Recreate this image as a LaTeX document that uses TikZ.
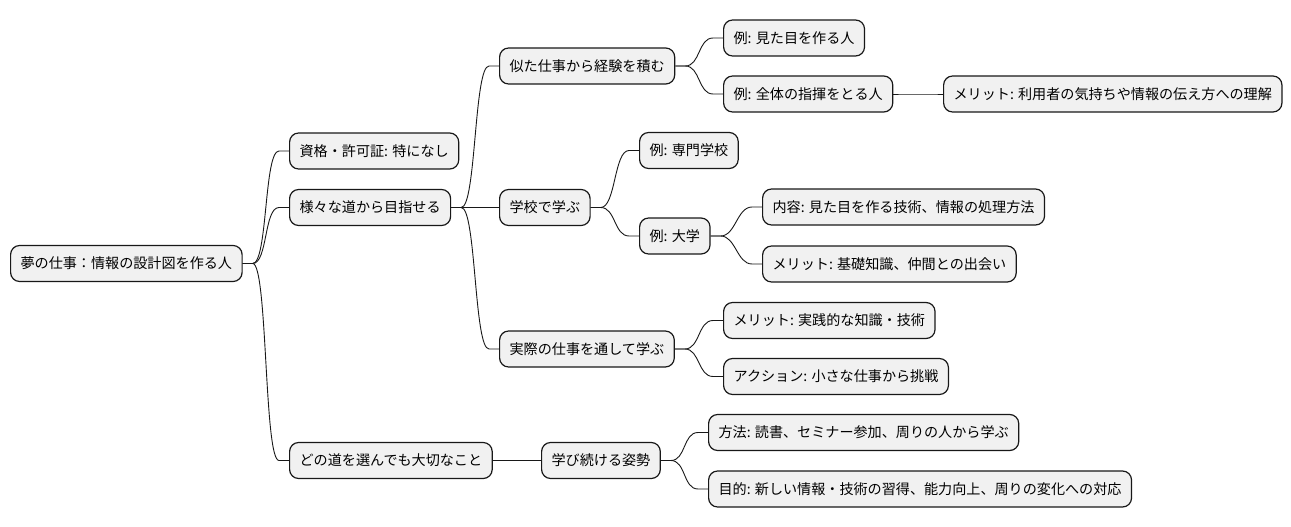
\documentclass[tikz,border=0pt]{standalone}
\usepackage{fontspec}
\setmainfont{Noto Sans CJK JP}
\usetikzlibrary{
    positioning,
    calc
}
\definecolor{boxgray}{HTML}{F1F1F1}
\definecolor{inkline}{HTML}{181818}
\tikzset{
    % --- Mind map topic (rounded box) ---
    topic/.style = {
        rectangle, draw=inkline, fill=boxgray,
        line width=1.2, rounded corners=9,
        minimum height=36, inner xsep=10, inner ysep=0,
        anchor=west,
        font=\fontsize{14.1}{16}\selectfont
    },
    % --- Branch line between topics ---
    branch/.style = {
        draw=inkline, line width=0.9
    }
}

\begin{document}
\begin{tikzpicture}[x=1pt, y=-1pt]

\useasboundingbox (0,0) rectangle (1291,527);

% ---------------------------------------------------------
% Root and first level
% ---------------------------------------------------------
\node[topic] (root) at (10, 263.5) {夢の仕事：情報の設計図を作る人};

\node[topic] (cert)  at (289, 151)   {資格・許可証: 特になし};
\node[topic] (paths) at (289, 207.5) {様々な道から目指せる};
\node[topic] (core)  at (289, 460.5) {どの道を選んでも大切なこと};

% ---------------------------------------------------------
% Second level
% ---------------------------------------------------------
\node[topic] (similar) at (499, 66)    {似た仕事から経験を積む};
\node[topic] (school)  at (499, 207.5) {学校で学ぶ};
\node[topic] (onjob)   at (499, 349)   {実際の仕事を通して学ぶ};
\node[topic] (keep)    at (541, 460.5) {学び続ける姿勢};

% ---------------------------------------------------------
% Third level and below
% ---------------------------------------------------------
\node[topic] (exLook)   at (723, 38)  {例: 見た目を作る人};
\node[topic] (exLead)   at (723, 94)  {例: 全体の指揮をとる人};
\node[topic] (leadGain) at (943, 94)  {メリット: 利用者の気持ちや情報の伝え方への理解};

\node[topic] (exVoc)    at (639, 150.5) {例: 専門学校};
\node[topic] (exUniv)   at (639, 236)   {例: 大学};
\node[topic] (univWhat) at (762, 207)   {内容: 見た目を作る技術、情報の処理方法};
\node[topic] (univGain) at (762, 264)   {メリット: 基礎知識、仲間との出会い};

\node[topic] (jobGain)  at (723, 320.5) {メリット: 実践的な知識・技術};
\node[topic] (jobStep)  at (723, 376.5) {アクション: 小さな仕事から挑戦};

\node[topic] (keepHow)  at (708, 432.5) {方法: 読書、セミナー参加、周りの人から学ぶ};
\node[topic] (keepWhy)  at (708, 489)   {目的: 新しい情報・技術の習得、能力向上、周りの変化への対応};

% ---------------------------------------------------------
% Branches
% ---------------------------------------------------------
\foreach \a/\b in {root/cert, root/paths, root/core,
                   paths/similar, paths/school, paths/onjob, core/keep,
                   similar/exLook, similar/exLead, exLead/leadGain,
                   school/exVoc, school/exUniv, exUniv/univWhat, exUniv/univGain,
                   onjob/jobGain, onjob/jobStep,
                   keep/keepHow, keep/keepWhy} {
    \draw[branch] (\a.east) -- ++(10,0)
        .. controls +(15,0) and +(-15,0) .. ($(\b.west) + (-10,0)$)
        -- (\b.west);
}

\end{tikzpicture}
\end{document}
